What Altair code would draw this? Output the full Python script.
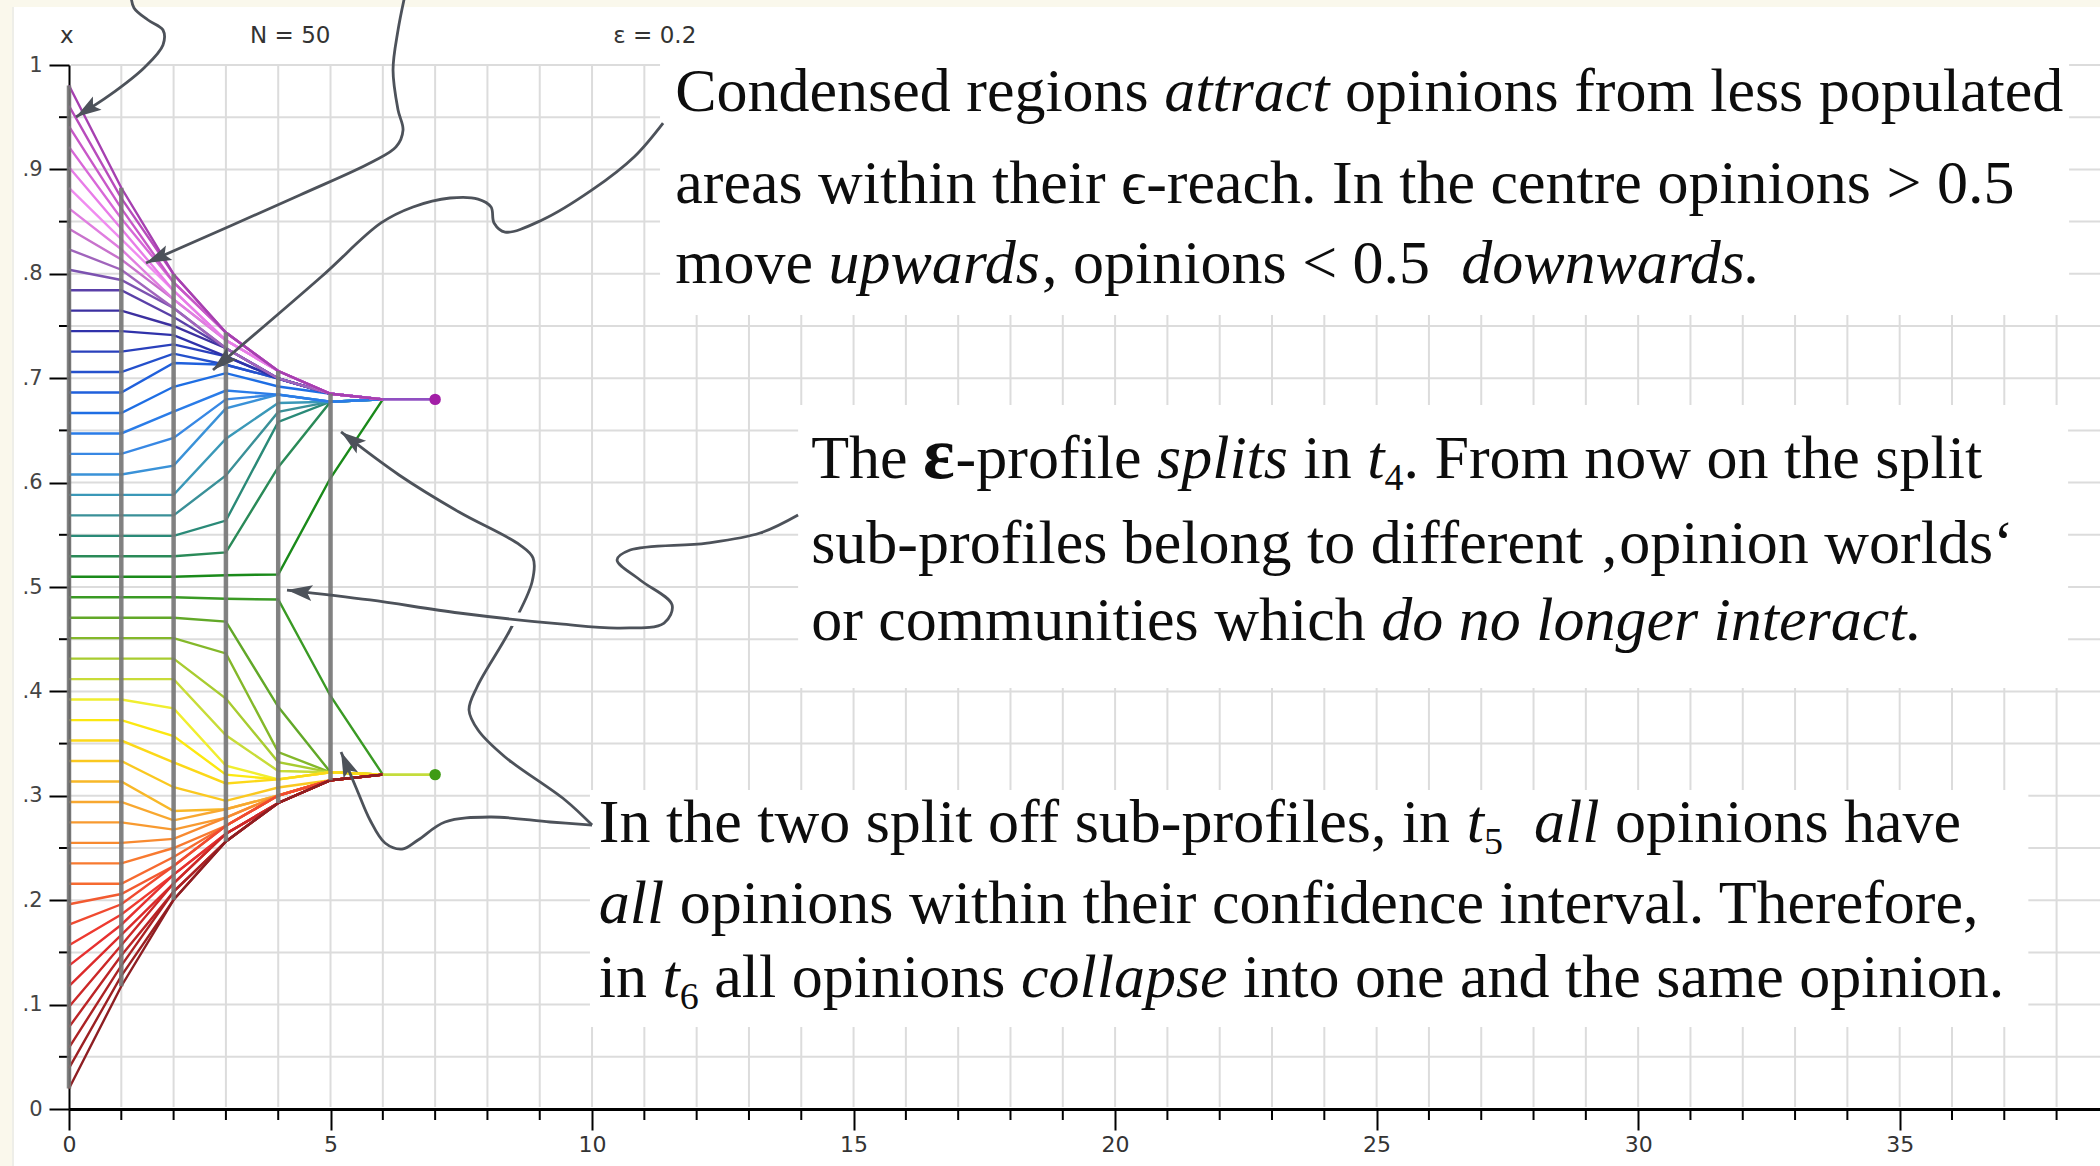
import math
import altair as alt
import pandas as pd

# Hegselmann-Krause bounded-confidence run: N = 50 agents, epsilon = 0.2.
# One list of opinions per time step, agents ordered by their start opinion.
steps = [0, 1, 2, 3, 4, 5, 6]

opinions_t0 = [0.0196, 0.0392, 0.0588, 0.0784, 0.0980, 0.1176, 0.1373, 0.1569, 0.1765, 0.1961,
               0.2157, 0.2353, 0.2549, 0.2745, 0.2941, 0.3137, 0.3333, 0.3529, 0.3725, 0.3922,
               0.4118, 0.4314, 0.4510, 0.4706, 0.4902, 0.5098, 0.5294, 0.5490, 0.5686, 0.5882,
               0.6078, 0.6275, 0.6471, 0.6667, 0.6863, 0.7059, 0.7255, 0.7451, 0.7647, 0.7843,
               0.8039, 0.8235, 0.8431, 0.8627, 0.8824, 0.9020, 0.9216, 0.9412, 0.9608, 0.9804]
opinions_t1 = [0.1176, 0.1275, 0.1373, 0.1471, 0.1569, 0.1667, 0.1765, 0.1863, 0.1961, 0.2059,
               0.2157, 0.2353, 0.2549, 0.2745, 0.2941, 0.3137, 0.3333, 0.3529, 0.3725, 0.3922,
               0.4118, 0.4314, 0.4510, 0.4706, 0.4902, 0.5098, 0.5294, 0.5490, 0.5686, 0.5882,
               0.6078, 0.6275, 0.6471, 0.6667, 0.6863, 0.7059, 0.7255, 0.7451, 0.7647, 0.7843,
               0.7941, 0.8039, 0.8137, 0.8235, 0.8333, 0.8431, 0.8529, 0.8627, 0.8725, 0.8824]
opinions_t2 = [0.2004, 0.2004, 0.2082, 0.2082, 0.2162, 0.2162, 0.2245, 0.2245, 0.2328, 0.2328,
               0.2414, 0.2500, 0.2587, 0.2676, 0.2765, 0.2855, 0.3082, 0.3321, 0.3572, 0.3837,
               0.4118, 0.4314, 0.4510, 0.4706, 0.4902, 0.5098, 0.5294, 0.5490, 0.5686, 0.5882,
               0.6163, 0.6428, 0.6679, 0.6918, 0.7145, 0.7235, 0.7324, 0.7413, 0.7500, 0.7586,
               0.7672, 0.7672, 0.7755, 0.7755, 0.7838, 0.7838, 0.7918, 0.7918, 0.7996, 0.7996]
opinions_t3 = [0.2563, 0.2563, 0.2563, 0.2563, 0.2637, 0.2637, 0.2637, 0.2637, 0.2713, 0.2713,
               0.2713, 0.2713, 0.2791, 0.2791, 0.2871, 0.2871, 0.2952, 0.3118, 0.3203, 0.3289,
               0.3580, 0.3932, 0.4364, 0.4669, 0.4887, 0.5113, 0.5331, 0.5636, 0.6068, 0.6420,
               0.6711, 0.6797, 0.6882, 0.7048, 0.7129, 0.7129, 0.7209, 0.7209, 0.7287, 0.7287,
               0.7287, 0.7287, 0.7363, 0.7363, 0.7363, 0.7363, 0.7437, 0.7437, 0.7437, 0.7437]
opinions_t4 = [0.2931, 0.2931, 0.2931, 0.2931, 0.2931, 0.2931, 0.2931, 0.2931, 0.3003, 0.3003,
               0.3003, 0.3003, 0.3003, 0.3003, 0.3003, 0.3003, 0.3079, 0.3157, 0.3157, 0.3157,
               0.3237, 0.3323, 0.3418, 0.3852, 0.4880, 0.5120, 0.6148, 0.6582, 0.6677, 0.6763,
               0.6843, 0.6843, 0.6843, 0.6921, 0.6997, 0.6997, 0.6997, 0.6997, 0.6997, 0.6997,
               0.6997, 0.6997, 0.7069, 0.7069, 0.7069, 0.7069, 0.7069, 0.7069, 0.7069, 0.7069]
opinions_t5 = [0.3149, 0.3149, 0.3149, 0.3149, 0.3149, 0.3149, 0.3149, 0.3149, 0.3149, 0.3149,
               0.3149, 0.3149, 0.3149, 0.3149, 0.3149, 0.3149, 0.3149, 0.3225, 0.3225, 0.3225,
               0.3225, 0.3225, 0.3225, 0.3225, 0.3956, 0.6044, 0.6775, 0.6775, 0.6775, 0.6775,
               0.6775, 0.6775, 0.6775, 0.6851, 0.6851, 0.6851, 0.6851, 0.6851, 0.6851, 0.6851,
               0.6851, 0.6851, 0.6851, 0.6851, 0.6851, 0.6851, 0.6851, 0.6851, 0.6851, 0.6851]
opinions_t6 = [0.3203, 0.3203, 0.3203, 0.3203, 0.3203, 0.3203, 0.3203, 0.3203, 0.3203, 0.3203,
               0.3203, 0.3203, 0.3203, 0.3203, 0.3203, 0.3203, 0.3203, 0.3203, 0.3203, 0.3203,
               0.3203, 0.3203, 0.3203, 0.3203, 0.3203, 0.6797, 0.6797, 0.6797, 0.6797, 0.6797,
               0.6797, 0.6797, 0.6797, 0.6797, 0.6797, 0.6797, 0.6797, 0.6797, 0.6797, 0.6797,
               0.6797, 0.6797, 0.6797, 0.6797, 0.6797, 0.6797, 0.6797, 0.6797, 0.6797, 0.6797]
profiles = [opinions_t0, opinions_t1, opinions_t2, opinions_t3,
            opinions_t4, opinions_t5, opinions_t6]
final_step = 7

# one colour per agent, lowest start opinion first
agent_palette = [
    "#8e1e22", "#9c2022", "#ac2224", "#bc2426", "#cc2828", "#dc2a2a", "#e63030", "#ee3a30",
    "#f04a30", "#f25a30", "#f66a30", "#f87a30", "#f88a30", "#f89a30", "#f8a830", "#f8b828",
    "#fac820", "#fcd818", "#fce810", "#f0ee30", "#c8dc38", "#a8cc30", "#84b82a", "#62a828",
    "#3a9a24", "#1a8a1a", "#2a8a58", "#2a8a78", "#3a9098", "#3a98b8", "#3a92d8", "#3888e4",
    "#2a7ce8", "#1e6ee4", "#2060dc", "#2450cc", "#2a40bc", "#3032aa", "#3c30a0", "#5a40a8",
    "#7c52b0", "#a064bc", "#c872cc", "#e07ee0", "#f08cf0", "#e87ce8", "#d868d8", "#c858c8",
    "#b84cbc", "#a640b0",
]

# axis ticks and grid
x_major = [0, 5, 10, 15, 20, 25, 30, 35]
x_minor = [1, 2, 3, 4, 6, 7, 8, 9, 11, 12, 13, 14, 16, 17, 18, 19, 21, 22, 23, 24,
           26, 27, 28, 29, 31, 32, 33, 34, 36, 37, 38]
y_major = [0, 0.1, 0.2, 0.3, 0.4, 0.5, 0.6, 0.7, 0.8, 0.9, 1]
y_minor = [0.05, 0.15, 0.25, 0.35, 0.45, 0.55, 0.65, 0.75, 0.85, 0.95]
grid_t = list(range(1, 39))
grid_y = [0.05, 0.1, 0.15, 0.2, 0.25, 0.3, 0.35, 0.4, 0.45, 0.5,
          0.55, 0.6, 0.65, 0.7, 0.75, 0.8, 0.85, 0.9, 0.95, 1.0]

# header labels above the plot
header_labels = ["x", "N = 50", "\u03b5 = 0.2"]
header_t = [-0.04, 4.23, 11.2]

# white boxes behind the notes: (t from, t to, opinion from, opinion to)
note_boxes = [(11.30, 38.24, 0.7605, 1.012),
              (13.94, 38.22, 0.4033, 0.6743),
              (9.96, 37.46, 0.0785, 0.3056)]

# notes: (line start t, baseline opinion, [(piece, style), ...])
note_lines = [
    (11.59, 0.9559, [("Condensed regions ", "roman"), ("attract", "italic"),
                     (" opinions from less populated", "roman")]),
    (11.59, 0.8678, [("areas within their \u03f5-reach. In the centre opinions > 0.5", "roman")]),
    (11.59, 0.7912, [("move ", "roman"), ("upwards", "italic"),
                     (", opinions < 0.5  ", "roman"), ("downwards.", "italic")]),

    (14.19, 0.6044, [("The ", "roman"), ("\u03b5", "bold"), ("-profile ", "roman"),
                     ("splits", "italic"), (" in ", "roman"), ("t", "italic"), ("4", "sub"),
                     (". From now on the split", "roman")]),
    (14.19, 0.5230, [("sub-profiles belong to different \u201aopinion worlds\u2018", "roman")]),
    (14.19, 0.4492, [("or communities which ", "roman"), ("do no longer interact.", "italic")]),

    (10.13, 0.2557, [("In the two split off sub-profiles, in ", "roman"), ("t", "italic"),
                     ("5", "sub"), (" ", "roman"), ("all", "italic"), (" opinions have", "roman")]),
    (10.13, 0.1782, [("all", "italic"),
                     (" opinions within their confidence interval. Therefore,", "roman")]),
    (10.13, 0.1073, [("in ", "roman"), ("t", "italic"), ("6", "sub"), (" all opinions ", "roman"),
                     ("collapse", "italic"), (" into one and the same opinion.", "roman")]),
]

# pointer curves from the notes to the profile: (t, opinion) points, tip last
pointer_curves = {
    "p1": [(1.185, 1.067), (1.243, 1.0546), (1.511, 1.0431), (1.797, 1.0335), (1.797, 1.0192),
           (1.453, 0.9981), (0.784, 0.9713), (0.134, 0.9502)],
    "p2": [(6.424, 1.067), (6.291, 1.0335), (6.195, 0.9952), (6.291, 0.9569), (6.386, 0.9377),
           (6.252, 0.9215), (5.793, 0.9071), (4.417, 0.8755), (1.472, 0.8103)],
    "p3": [(11.358, 0.9444), (10.803, 0.9119), (10.0, 0.8803), (9.044, 0.8515), (8.337, 0.84),
           (8.126, 0.8487), (8.069, 0.864), (7.82, 0.8716), (7.285, 0.8726), (6.577, 0.864),
           (5.966, 0.8487), (4.818, 0.7969), (2.753, 0.7079)],
    "p5": [(10.0, 0.272), (9.197, 0.2749), (8.05, 0.2797), (7.189, 0.2749), (6.673, 0.2577),
           (6.367, 0.249), (6.042, 0.2548), (5.755, 0.2768), (5.507, 0.3056), (5.201, 0.342)],
    "p6": [(10.0, 0.272), (9.484, 0.296), (8.337, 0.3372), (7.82, 0.363), (7.648, 0.3822),
           (7.801, 0.4042), (8.432, 0.4588), (8.853, 0.5048), (8.872, 0.5278), (8.623, 0.5402),
           (7.457, 0.5718), (6.31, 0.6073), (5.201, 0.6485)],
    "p4": [(13.939, 0.569), (13.212, 0.5517), (12.199, 0.5421), (10.727, 0.5354), (10.478, 0.5259),
           (10.918, 0.5067), (11.53, 0.4828), (11.377, 0.4655), (10.535, 0.4607), (9.388, 0.4646),
           (7.457, 0.4751), (5.755, 0.4876), (4.168, 0.4971)],
}
# short white gap where p4 crosses over p6
crossing_gap = [(8.24, 0.4708), (8.85, 0.4674)]

# ---------------------------------------------------------------- layout
WIDTH, HEIGHT = 2031, 1044
T_MAX = 38.83
PX_T = WIDTH / T_MAX
PX_Y = HEIGHT
INK = "#4d525a"
SERIF = "Liberation Serif"
NOTE_SIZE = 62
SIZES = {"roman": NOTE_SIZE, "italic": NOTE_SIZE, "bold": 74, "sub": 38}

# advance widths (per 1000 em) of the serif face, used to run the note pieces together
ROMAN_W = {" ": 250, "\u00a0": 250, ",": 250, ".": 250, "-": 333, "<": 564, ">": 564,
           "\u201a": 333, "\u2018": 333, "\u03f5": 420, "\u03b5": 439,
           "C": 667, "I": 333, "T": 611, "F": 556,
           "a": 444, "b": 500, "c": 444, "d": 500, "e": 444, "f": 333, "g": 500, "h": 500,
           "i": 278, "j": 278, "k": 500, "l": 278, "m": 778, "n": 500, "o": 500, "p": 500,
           "q": 500, "r": 333, "s": 389, "t": 278, "u": 500, "v": 500, "w": 722, "x": 500,
           "y": 500, "z": 444}
ITALIC_W = {" ": 250, ".": 250, "a": 500, "c": 444, "d": 500, "e": 444, "g": 500, "i": 278,
            "l": 278, "n": 500, "o": 500, "p": 500, "r": 389, "s": 389, "t": 278, "u": 500,
            "w": 667}


def advance(s, style):
    table = ITALIC_W if style == "italic" else ROMAN_W
    return sum(table.get(c, 500) for c in s) * SIZES[style] / 1000


seg_rows = []
for t0, base, pieces in note_lines:
    x_px = t0 * PX_T
    for text, style in pieces:
        core = text.strip(" ")
        lead = len(text) - len(text.lstrip(" "))
        trail = len(text) - len(text.rstrip(" "))
        x_px += lead * 0.25 * NOTE_SIZE
        if core:
            seg_rows.append({"text": core, "t": x_px / PX_T, "y": base, "style": style})
            x_px += advance(core, style)
        x_px += trail * 0.25 * NOTE_SIZE
seg_df = pd.DataFrame(seg_rows)

x_scale = alt.Scale(domain=[0, T_MAX], nice=False, zero=False)
y_scale = alt.Scale(domain=[0, 1], nice=False, zero=False)
x_axis = alt.Axis(values=x_major, title=None, grid=False, tickSize=21, tickWidth=2,
                  tickColor="#000", domainColor="#000", domainWidth=3,
                  labelFont="DejaVu Sans", labelFontSize=22, labelColor="#333",
                  labelPadding=4, labelFlush=False, labelOverlap=False)
y_axis = alt.Axis(values=y_major, title=None, grid=False, tickSize=20, tickWidth=2,
                  tickColor="#000", domainColor="#000", domainWidth=2,
                  labelFont="DejaVu Sans", labelFontSize=21, labelColor="#444",
                  labelPadding=7, labelFlush=False, labelOverlap=False,
                  labelExpr="datum.value == 0 ? '0' : (datum.value >= 0.99 ? '1' : "
                            "replace(format(datum.value, '.1f'), '0.', '.'))")


def X(field):
    return alt.X(field, type="quantitative", scale=x_scale, axis=x_axis)


def Y(field):
    return alt.Y(field, type="quantitative", scale=y_scale, axis=y_axis)


one = pd.DataFrame({"k": [0]})

# page frame: cream strips on top and left of the white sheet
frame = [
    alt.Chart(one).mark_rect(color="#faf8ec").encode(
        x=alt.value(-69), x2=alt.value(WIDTH), y=alt.value(-65), y2=alt.value(-58)),
    alt.Chart(one).mark_rect(color="#faf8ec").encode(
        x=alt.value(-69), x2=alt.value(-57), y=alt.value(-65), y2=alt.value(HEIGHT + 57)),
    alt.Chart(one).mark_rect(color="#eeeee8").encode(
        x=alt.value(-57), x2=alt.value(-55), y=alt.value(-58), y2=alt.value(HEIGHT + 57)),
]

grid_v = alt.Chart(pd.DataFrame({"t": grid_t})).mark_rule(color="#dcdcdc", strokeWidth=2).encode(
    x=X("t"), y=alt.value(0), y2=alt.value(HEIGHT - 2))
grid_h = alt.Chart(pd.DataFrame({"y": grid_y})).mark_rule(color="#dcdcdc", strokeWidth=2).encode(
    y=Y("y"), x=alt.value(2), x2=alt.value(WIDTH))
minor_x = alt.Chart(pd.DataFrame({"t": x_minor})).mark_rule(color="#000", strokeWidth=2).encode(
    x=X("t"), y=alt.value(HEIGHT), y2=alt.value(HEIGHT + 11))
minor_y = alt.Chart(pd.DataFrame({"y": y_minor})).mark_rule(color="#000", strokeWidth=2).encode(
    y=Y("y"), x=alt.value(-10), x2=alt.value(0))

box_df = pd.DataFrame(note_boxes, columns=["t0", "t1", "y0", "y1"])
boxes = alt.Chart(box_df).mark_rect(color="white").encode(
    x=X("t0"), x2="t1", y=Y("y0"), y2="y1")

# trajectories, drawn from the centre outwards so the outer agents lie on top
agent_ids = [f"a{i:02d}" for i in range(1, 51)]
draw_order = sorted(range(50), key=lambda i: abs(i - 24.5))
rows = []
for i in draw_order:
    for s, prof in zip(steps, profiles):
        rows.append({"agent": agent_ids[i], "t": s, "x": prof[i]})
traj_df = pd.DataFrame(rows)
trajectories = alt.Chart(traj_df).mark_line(strokeWidth=2.4).encode(
    x=X("t"), y=Y("x"),
    color=alt.Color("agent:N", scale=alt.Scale(domain=agent_ids, range=agent_palette), legend=None),
)

# spread of the profile at each step
spread_df = pd.DataFrame({"t": steps[:6],
                          "lo": [min(p) for p in profiles[:6]],
                          "hi": [max(p) for p in profiles[:6]]})
spread = alt.Chart(spread_df).mark_rule(color="#767676", strokeWidth=4.5, opacity=0.9).encode(
    x=X("t"), y=Y("lo"), y2="hi")

# the two final clusters carried on to the last step
upper_df = pd.DataFrame({"t": [steps[-1], final_step], "x": [opinions_t6[-1], opinions_t6[-1]]})
lower_df = pd.DataFrame({"t": [steps[-1], final_step], "x": [opinions_t6[0], opinions_t6[0]]})
upper_line = alt.Chart(upper_df).mark_line(color="#9150c2", strokeWidth=2.6).encode(x=X("t"), y=Y("x"))
lower_line = alt.Chart(lower_df).mark_line(color="#c4dc3c", strokeWidth=2.6).encode(x=X("t"), y=Y("x"))
upper_dot = alt.Chart(upper_df.iloc[[1]]).mark_circle(color="#a21ea6", size=130, opacity=1).encode(
    x=X("t"), y=Y("x"))
lower_dot = alt.Chart(lower_df.iloc[[1]]).mark_circle(color="#3f9b14", size=130, opacity=1).encode(
    x=X("t"), y=Y("x"))


def curve_frame(names):
    rs = []
    for name in names:
        for k, (t, y) in enumerate(pointer_curves[name]):
            rs.append({"curve": name, "idx": k, "t": t, "y": y})
    return pd.DataFrame(rs)


def curve_layer(df, color, width):
    return alt.Chart(df).mark_line(color=color, strokeWidth=width, interpolate="catmull-rom").encode(
        x=X("t"), y=Y("y"), detail="curve:N", order=alt.Order("idx:Q"))


curves_back = curve_layer(curve_frame(["p1", "p2", "p3", "p5", "p6"]), INK, 2.8)
gap_df = pd.DataFrame({"curve": ["g", "g"], "idx": [0, 1],
                       "t": [p[0] for p in crossing_gap], "y": [p[1] for p in crossing_gap]})
gap = curve_layer(gap_df, "white", 14)
curves_front = curve_layer(curve_frame(["p4"]), INK, 2.8)

# arrow heads, turned along the last stretch of each curve
heads = []
for name, pts in pointer_curves.items():
    (t1, y1), (t2, y2) = pts[-2], pts[-1]
    dx = (t2 - t1) * PX_T
    dy = -(y2 - y1) * PX_Y
    ang = math.degrees(math.atan2(dx, -dy)) % 360
    heads.append({"t": t2, "y": y2, "angle": ang})
ARROW = "M0,0L0.5,1.6L0,1.28L-0.5,1.6Z"
arrowheads = alt.Chart(pd.DataFrame(heads)).mark_point(
    shape=ARROW, filled=True, size=1000, color=INK, opacity=1, strokeWidth=0).encode(
    x=X("t"), y=Y("y"), angle=alt.Angle("angle:Q", scale=None))


def note_layer(style, **kw):
    return alt.Chart(seg_df).transform_filter(alt.datum.style == style).mark_text(
        font=SERIF, align="left", baseline="alphabetic", color="#0d0d0d",
        fontSize=SIZES[style], **kw).encode(
        x=X("t"), y=Y("y"), text="text:N")


notes = [
    note_layer("roman"),
    note_layer("italic", fontStyle="italic"),
    note_layer("bold", fontWeight="bold"),
    note_layer("sub", dy=12),
]

header = alt.Chart(pd.DataFrame({"label": header_labels, "t": header_t, "y": [1.0211] * 3})).mark_text(
    font="DejaVu Sans", fontSize=23, color="#333", align="center", baseline="alphabetic").encode(
    x=X("t"), y=Y("y"), text="label:N")

chart = alt.layer(
    *frame, grid_v, grid_h, boxes, minor_x, minor_y,
    trajectories, spread, upper_line, lower_line, upper_dot, lower_dot,
    curves_back, gap, curves_front, arrowheads, *notes, header,
).properties(
    width=WIDTH, height=HEIGHT,
    padding={"left": 69, "top": 65, "right": 0, "bottom": 57},
    autosize=alt.AutoSizeParams(type="none"),
    background="white",
).configure_view(stroke=None)

chart.save("out.html", embed_options={"renderer": "svg", "actions": False})
